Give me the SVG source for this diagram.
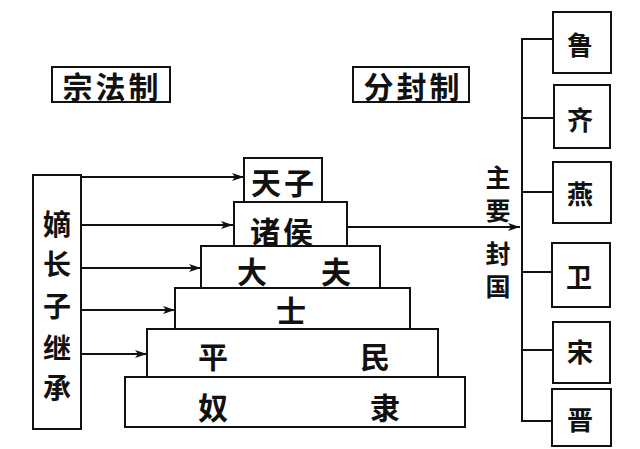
<svg xmlns="http://www.w3.org/2000/svg" width="640" height="449" viewBox="0 0 640 449">
<defs>
<marker id="ah" viewBox="0 0 12 8" refX="12" refY="4" markerWidth="12" markerHeight="8" markerUnits="userSpaceOnUse" orient="auto">
<path d="M0,0 L12,4 L0,8 L3,4 Z" fill="#111"/>
</marker>
</defs>
<style>
rect{fill:#fff;stroke:#111;stroke-width:2}
text{font-family:"Noto Sans CJK SC","Noto Sans CJK JP",sans-serif;fill:#111;text-anchor:middle;dominant-baseline:central;font-weight:bold}
.t{font-size:30px}
.v{font-size:28px}
.s{font-size:26px}
.m{font-size:25px}
.c line,.c path{stroke:#111;stroke-width:2;fill:none}
.a{marker-end:url(#ah)}
</style>
<rect width="640" height="449" style="fill:#fff;stroke:none"/>
<g id="zongfazhi"><rect x="52" y="67" width="118" height="35"/><text class="t" x="112" y="85" letter-spacing="3">宗法制</text></g>
<g id="fenfengzhi"><rect x="353" y="67" width="116" height="35"/><text class="t" x="413" y="85" letter-spacing="3">分封制</text></g>
<g id="dizhangzi"><rect x="33" y="175" width="48" height="254"/>
<text class="v" x="57" y="223">嫡</text><text class="v" x="57" y="263">长</text><text class="v" x="57" y="305">子</text><text class="v" x="57" y="347">继</text><text class="v" x="57" y="387">承</text></g>
<g id="nuli"><rect x="125" y="377" width="340" height="50"/><text class="t" x="213" y="406">奴</text><text class="t" x="385" y="406">隶</text></g>
<g id="pingmin"><rect x="147" y="329" width="291" height="48"/><text class="t" x="213" y="355">平</text><text class="t" x="375" y="355">民</text></g>
<g id="shi"><rect x="175" y="288" width="235" height="41"/><text class="t" x="291" y="309">士</text></g>
<g id="dafu"><rect x="201" y="246" width="179" height="42"/><text class="t" x="252" y="270">大</text><text class="t" x="336" y="270">夫</text></g>
<g id="zhuhou"><rect x="234" y="202" width="113" height="44"/><text class="t" x="283" y="230" letter-spacing="3">诸侯</text></g>
<g id="tianzi"><rect x="244" y="158" width="78" height="44"/><text class="t" x="284" y="181" letter-spacing="3">天子</text></g>
<g id="zhuyaofengguo"><text class="m" x="498" y="176">主</text><text class="m" x="498" y="209">要</text><text class="m" x="498" y="252">封</text><text class="m" x="498" y="285">国</text></g>
<g id="lu"><rect x="553" y="12" width="58" height="61"/><text class="s" x="580" y="43">鲁</text></g>
<g id="qi"><rect x="554" y="85" width="56" height="63"/><text class="s" x="580" y="118">齐</text></g>
<g id="yan"><rect x="553" y="162" width="58" height="61"/><text class="s" x="580" y="192">燕</text></g>
<g id="wei"><rect x="552" y="243" width="58" height="64"/><text class="s" x="579" y="275">卫</text></g>
<g id="song"><rect x="553" y="322" width="57" height="61"/><text class="s" x="580" y="350">宋</text></g>
<g id="jin"><rect x="552" y="389" width="59" height="57"/><text class="s" x="580" y="418">晋</text></g>
<g id="connectors" class="c">
<line class="a" x1="81" y1="177" x2="244" y2="177"/>
<line class="a" x1="81" y1="225" x2="233" y2="225"/>
<line class="a" x1="81" y1="268" x2="201" y2="268"/>
<line class="a" x1="81" y1="310" x2="175" y2="310"/>
<line class="a" x1="81" y1="354" x2="147" y2="354"/>
<line class="a" x1="347" y1="227" x2="520" y2="227"/>
<path d="M553,39 H522 V421 H552"/>
<line x1="522" y1="118" x2="554" y2="118"/>
<line x1="522" y1="192" x2="553" y2="192"/>
<line x1="522" y1="272" x2="552" y2="272"/>
<line x1="522" y1="350" x2="553" y2="350"/>
</g>
</svg>
